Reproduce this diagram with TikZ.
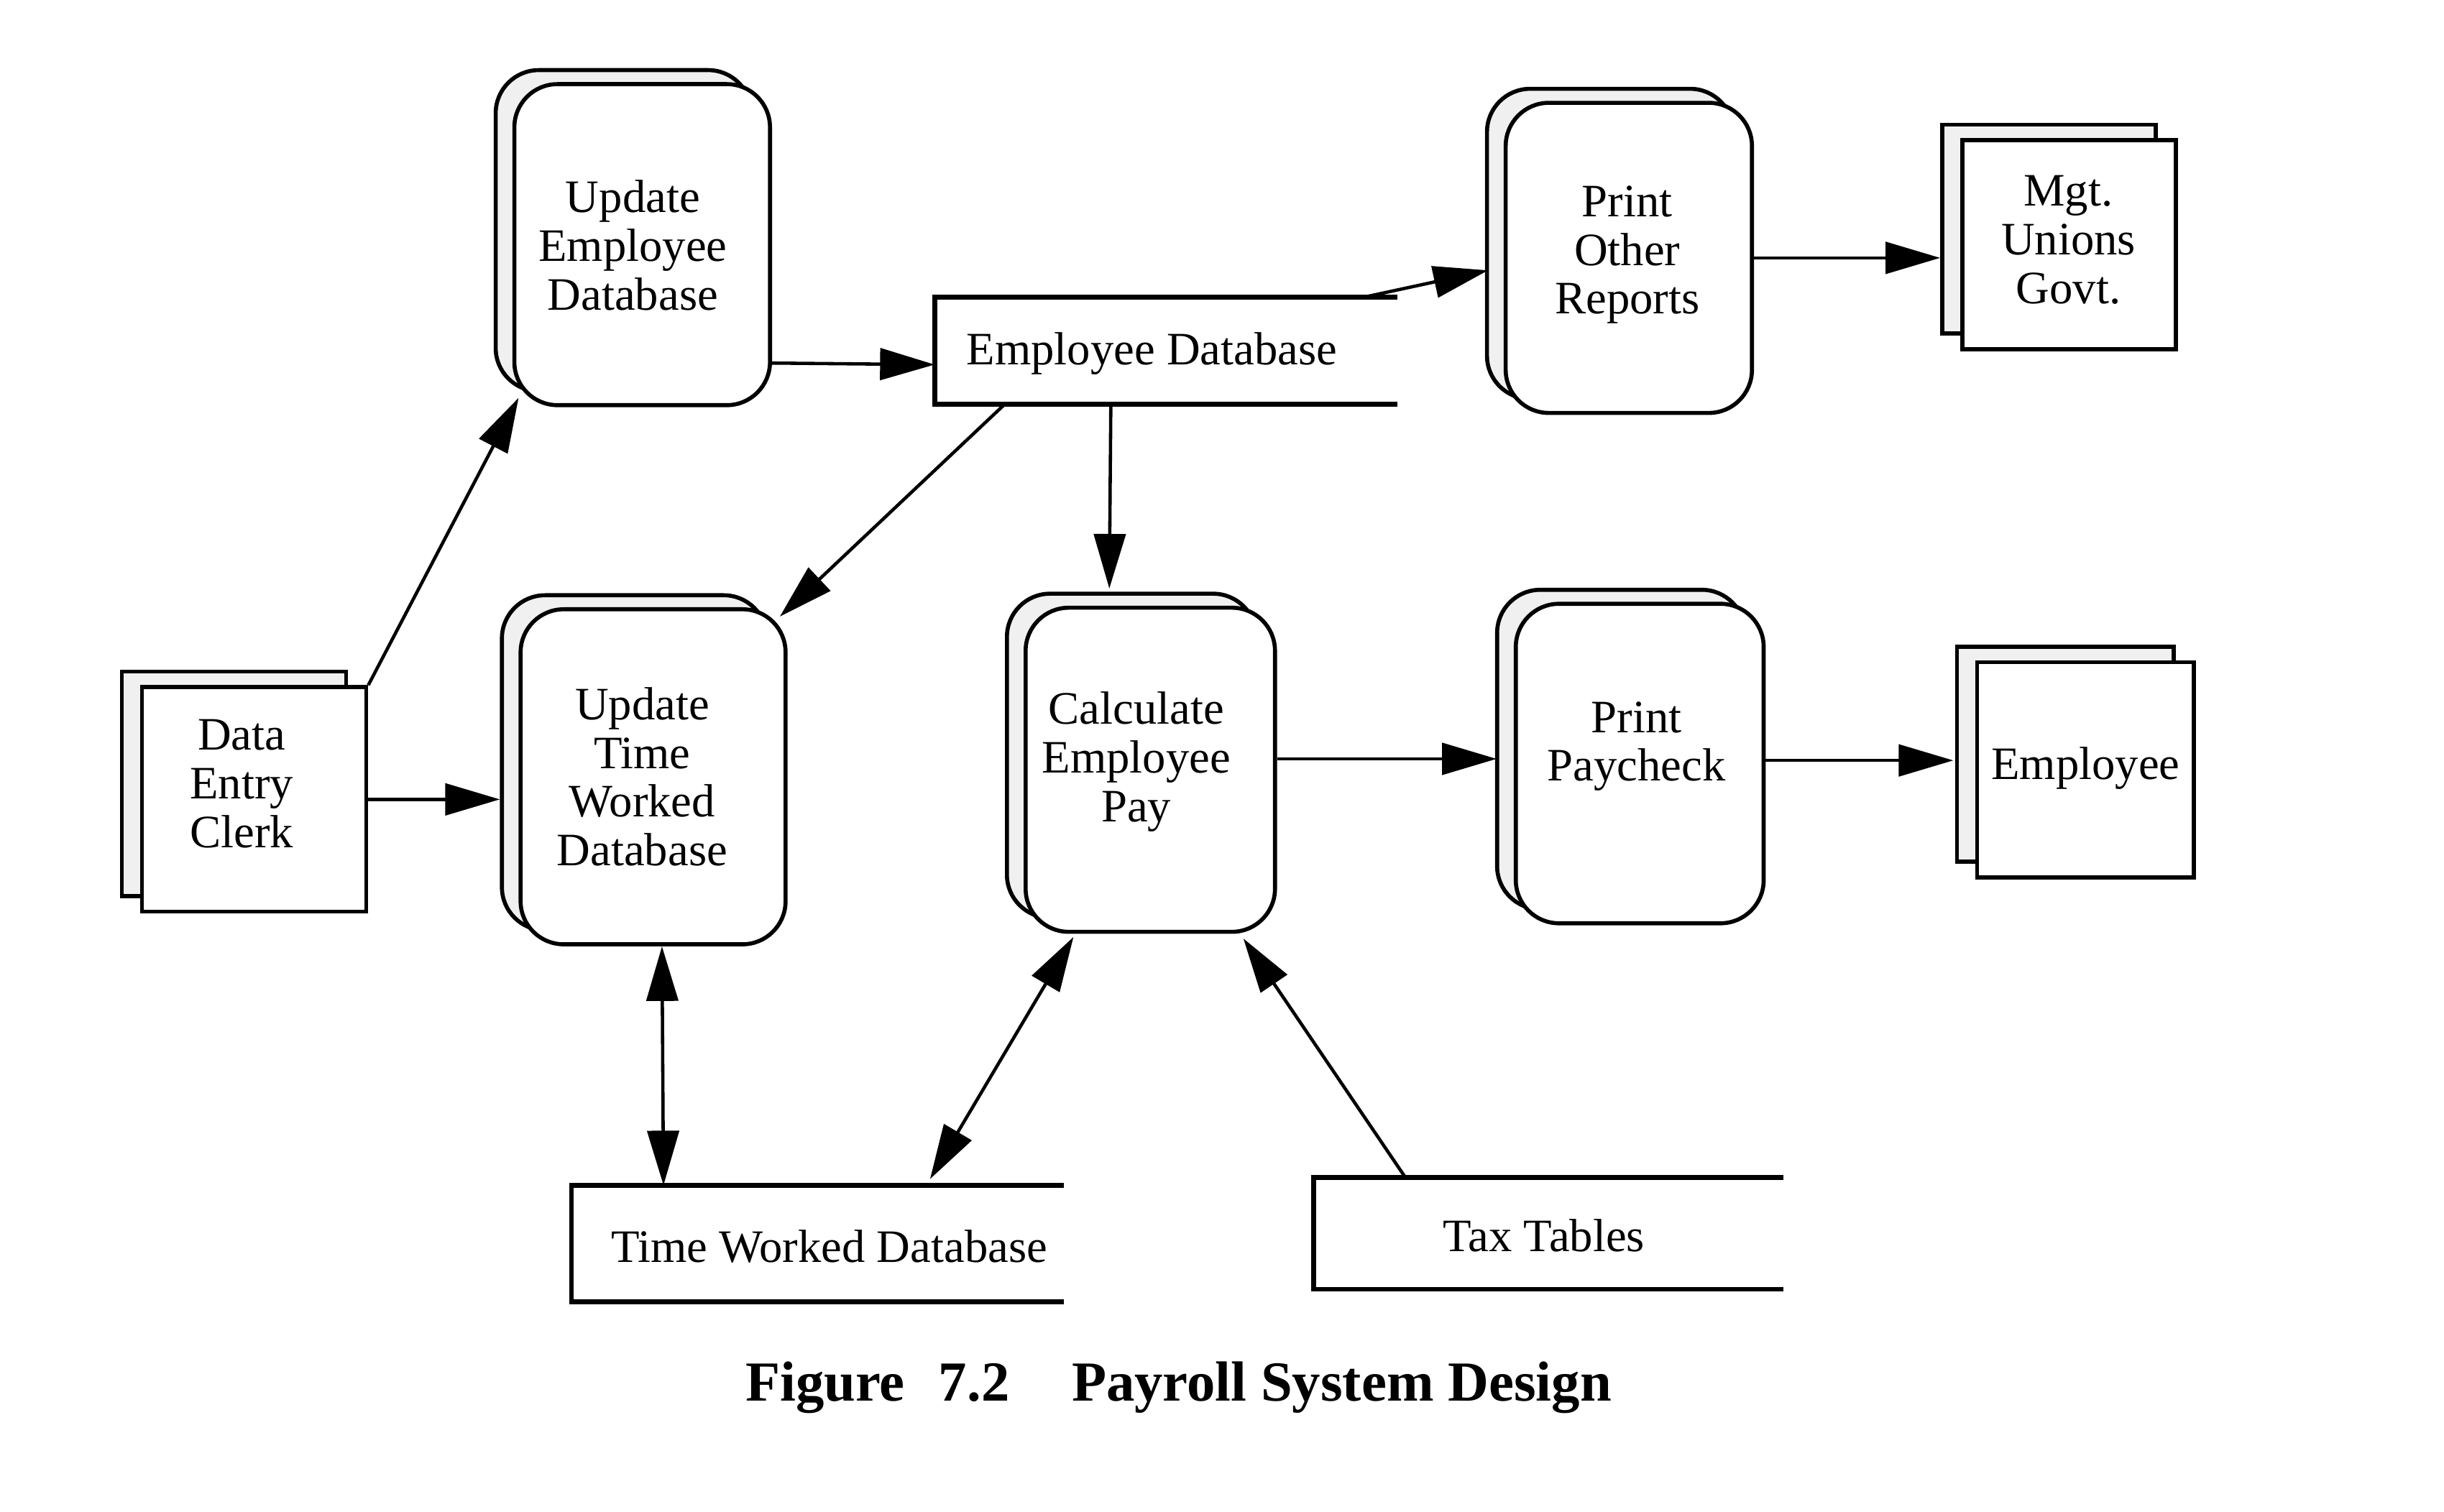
\documentclass[tikz,border=0pt]{standalone}
\usepackage{fontspec}
\setmainfont{Liberation Serif}
\usetikzlibrary{arrows.meta,shadows,calc}
\begin{document}
\begin{tikzpicture}[x=0.021684cm, y=-0.021684cm,
  box/.style={draw, line width=1.6pt, fill=white, inner sep=0pt},
  proc/.style={box, rounded corners=0.6cm,
    general shadow={shadow xshift=-0.26cm, shadow yshift=0.195cm, fill=gray!12, draw=black, line width=1.6pt}},
  docbox/.style={box,
    general shadow={shadow xshift=-0.28cm, shadow yshift=0.217cm, fill=gray!12, draw=black, line width=1.6pt}},
  store/.style={draw=none, inner sep=0pt},
  storeline/.style={line width=1.9pt},
  lbl/.style={align=center, font=\fontsize{18.4}{19.3}\selectfont, inner sep=0pt},
  arr/.style={line width=1.3pt, -{Triangle[length=0.76cm, width=0.44cm]}},
  darr/.style={line width=1.3pt, {Triangle[length=0.76cm, width=0.44cm]}-{Triangle[length=0.76cm, width=0.44cm]}},
]
\fill[white] (0,0) rectangle (1568,970);
\useasboundingbox (0,0) rectangle (1568,970);

% process boxes
\node[proc, minimum width=3.556cm, minimum height=4.467cm] (ued) at (412,157) {};
\node[proc, minimum width=3.686cm, minimum height=4.662cm] (utw) at (419,498.5) {};
\node[proc, minimum width=3.469cm, minimum height=4.510cm] (cep) at (738,494) {};
\node[proc, minimum width=3.448cm, minimum height=4.445cm] (pp) at (1052,490) {};
\node[proc, minimum width=3.426cm, minimum height=4.315cm] (por) at (1045,165.5) {};

% document boxes
\node[docbox, minimum width=3.122cm, minimum height=3.122cm] (dec) at (163,513) {};
\node[docbox, minimum width=2.971cm, minimum height=2.906cm] (mgt) at (1327.5,157) {};
\node[docbox, minimum width=3.014cm, minimum height=2.992cm] (emp) at (1338,494) {};

% data stores
\node[store, minimum width=6.418cm, minimum height=1.475cm] (ed) at (748,225) {};
\node[store, minimum width=6.830cm, minimum height=1.605cm] (twd) at (524.5,798) {};
\node[store, minimum width=6.527cm, minimum height=1.540cm] (tt) at (993.5,791.5) {};
\draw[storeline] (ed.north east) -- (ed.north west) -- (ed.south west) -- (ed.south east);
\draw[storeline] (twd.north east) -- (twd.north west) -- (twd.south west) -- (twd.south east);
\draw[storeline] (tt.north east) -- (tt.north west) -- (tt.south west) -- (tt.south east);

% labels
\node[lbl] (ued-t) at (406,157.5) {Update\\Employee\\Database};
\node[lbl] (utw-t) at (412,498.5) {Update\\Time\\Worked\\Database};
\node[lbl] (cep-t) at (729,489) {Calculate\\Employee\\Pay};
\node[lbl] (pp-t) at (1050,479) {Print\\Paycheck};
\node[lbl] (por-t) at (1044,163.5) {Print\\Other\\Reports};
\node[lbl] (dec-t) at (155,503) {Data\\Entry\\Clerk};
\node[lbl] (mgt-t) at (1327,154) {Mgt.\\Unions\\Govt.};
\node[lbl] (emp-t) at (1338,493) {Employee};
\node[lbl] (ed-t) at (739,227) {Employee Database};
\node[lbl] (twd-t) at (532,800) {Time Worked Database};
\node[lbl] (tt-t) at (990.5,793) {Tax Tables};

% connectors
\draw[arr] (dec.north east) -- ($(ued.south west)+(4,-6)$);
\draw[arr, shorten >=0.26cm] (dec.east) -- (dec.east -| utw.west);
\draw[arr] ($(ued.east)+(0,76)$) -- ($(ed.west)+(0,9)$);
\draw[arr] ($(ed.north east)+(-21,0)$) -- ($(por.west)+(-10,8)$);
\draw[arr, shorten >=0.28cm] (por.east) -- (por.east -| mgt.west);
\draw[arr] ($(ed.south west)+(45,0)$) -- ($(utw.north east)+(-5,6)$);
\draw[arr] ($(ed.south west)+(113,0)$) -- ($(cep.north west)+(55,-11)$);
\draw[arr] ($(cep.east)+(0,-7)$) -- ($(pp.west)+(-11,-3)$);
\draw[arr] ($(pp.east)+(0,-2)$) -- ($(emp.west)+(-14,-6)$);
\draw[darr] ($(utw.south west)+(92,0)$) -- ($(twd.north west)+(59,0)$);
\draw[darr] ($(cep.south west)+(32,2)$) -- ($(twd.north west)+(230,-4)$);
\draw[arr] ($(tt.north west)+(59,0)$) -- ($(cep.south west)+(141,3)$);

% caption
\node[anchor=base west, inner sep=0pt, font=\bfseries\fontsize{22.4}{26}\selectfont] (cap) at (478,899)
  {Figure\hspace{0.6em}7.2\hspace{1.1em}Payroll System Design};
\end{tikzpicture}
\end{document}
